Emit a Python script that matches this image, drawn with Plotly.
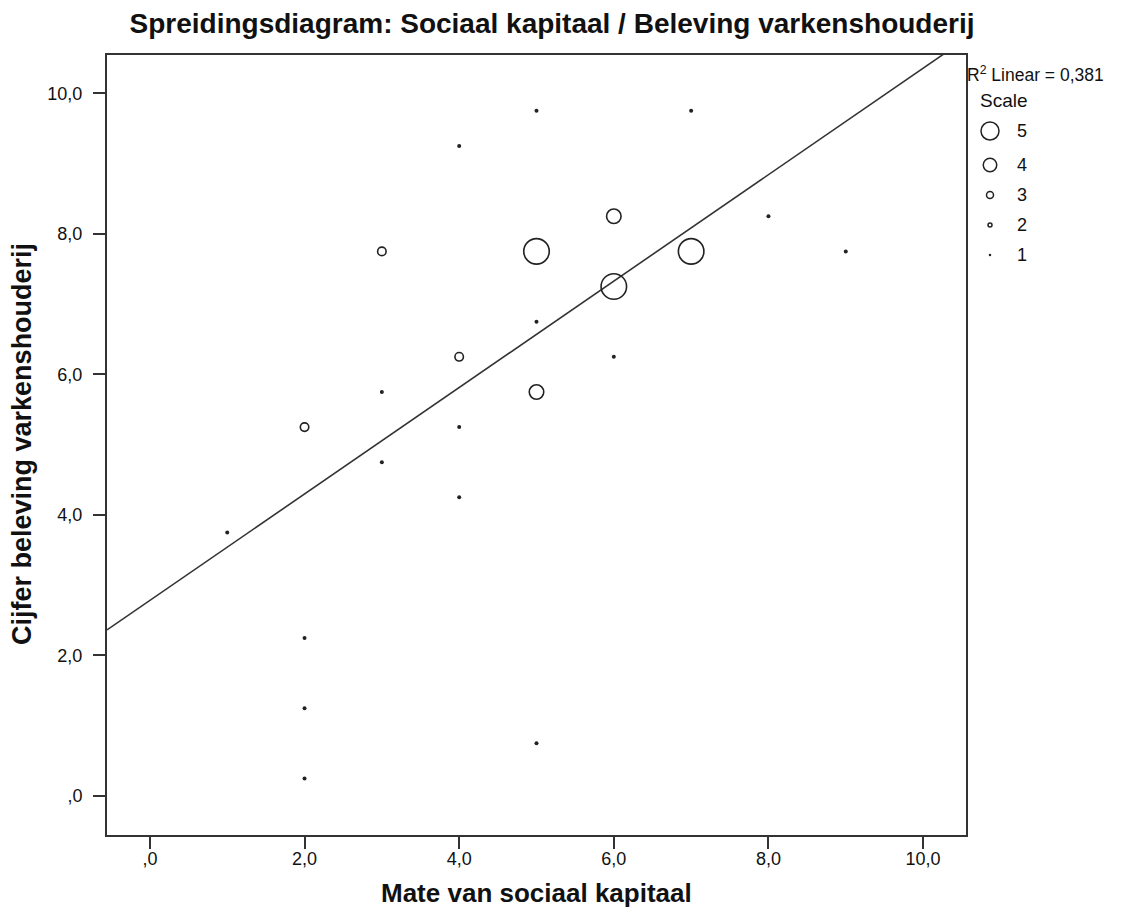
import numpy as np
import plotly.graph_objects as go

# ---- data ----
soc_kapitaal = [4, 5, 7, 8, 9, 5, 6, 3, 4, 3, 4, 1, 2, 2, 2, 5,
                3, 4, 2,
                6, 5,
                5, 7, 6]
beleving = [9.25, 9.75, 9.75, 8.25, 7.75, 6.75, 6.25, 5.75, 5.25, 4.75, 4.25, 3.75, 2.25, 1.25, 0.25, 0.75,
            7.75, 6.25, 5.25,
            8.25, 5.75,
            7.75, 7.75, 7.25]
aantal = [1, 1, 1, 1, 1, 1, 1, 1, 1, 1, 1, 1, 1, 1, 1, 1,
          2, 2, 2,
          3, 3,
          4, 4, 4]
x_ticks = [0, 2, 4, 6, 8, 10]
x_ticktext = [",0", "2,0", "4,0", "6,0", "8,0", "10,0"]
y_ticks = [0, 2, 4, 6, 8, 10]
y_ticktext = [",0", "2,0", "4,0", "6,0", "8,0", "10,0"]
legend_values = [5, 4, 3, 2, 1]
r2_text = "R<sup>2</sup> Linear = 0,381"

# ---- styling ----
OFF = 8                      # page body margin
W, H = 1126 - OFF, 917 - OFF
ML, MR, MT = 107 - OFF, 0, 55 - OFF
plot_bottom = 835 - OFF
MB = H - plot_bottom
plot_right = 966 - OFF
PW, PH = W - ML - MR, plot_bottom - MT
XR = [-0.555, 10.555]
YR = [-0.555, 10.545]
FONT = "Liberation Sans, Arial, sans-serif"
INK = "#222222"
size_plot = {1: 4, 2: 8.5, 3: 14.5, 4: 25.5}
size_leg = {5: 18, 4: 13.5, 3: 7, 2: 4, 1: 2.5}

fig = go.Figure()

# regression line (weighted least squares, frequency weights)
x = np.array(soc_kapitaal, float)
y = np.array(beleving, float)
w = np.array(aantal, float)
slope, intercept = np.polyfit(x, y, 1, w=np.sqrt(w))
lx = np.array([XR[0], XR[1]])
fig.add_trace(go.Scatter(x=lx, y=intercept + slope * lx, mode="lines",
                         line=dict(color="#333333", width=1.6),
                         hoverinfo="skip", showlegend=False))

# points
for c in sorted(set(aantal)):
    xs = [a for a, n in zip(soc_kapitaal, aantal) if n == c]
    ys = [b for b, n in zip(beleving, aantal) if n == c]
    if c == 1:
        marker = dict(symbol="circle", size=size_plot[c], color=INK, line=dict(width=0))
    else:
        marker = dict(symbol="circle-open", size=size_plot[c], color=INK, line=dict(width=1.6, color=INK))
    fig.add_trace(go.Scatter(x=xs, y=ys, mode="markers", marker=marker, showlegend=False))

# legend symbols (drawn on a pixel-like helper axis in the right margin)
leg_y = [131 - OFF, 165 - OFF, 195 - OFF, 225 - OFF, 255 - OFF]
leg_x = 990 - OFF
for v, yy in zip(legend_values, leg_y):
    if v == 1:
        marker = dict(symbol="circle", size=size_leg[v], color=INK)
    else:
        marker = dict(symbol="circle-open", size=size_leg[v], color=INK, line=dict(width=1.5, color=INK))
    fig.add_trace(go.Scatter(x=[leg_x], y=[yy], xaxis="x2", yaxis="y2", mode="markers",
                             marker=marker, showlegend=False, hoverinfo="skip"))
    fig.add_annotation(x=1015 - OFF, y=yy, xref="x2", yref="y2", text=str(v), showarrow=False,
                       xanchor="left", yanchor="middle", font=dict(family=FONT, size=18, color="#111"))

fig.add_annotation(x=(978 - OFF - ML) / PW, y=100 - OFF, xref="paper", yref="y2", text="Scale",
                   showarrow=False, xanchor="left", yanchor="middle",
                   font=dict(family=FONT, size=19, color="#111"))
fig.add_annotation(x=(965 - OFF - ML) / PW, y=74 - OFF, xref="paper", yref="y2", text=r2_text,
                   showarrow=False, xanchor="left", yanchor="middle",
                   font=dict(family=FONT, size=17.5, color="#111"))

dom_r = (plot_right - ML) / PW
axis_common = dict(showgrid=False, zeroline=False, showline=True, mirror=True,
                   linecolor="#333333", linewidth=2, ticks="outside", ticklen=12,
                   tickwidth=1.6, tickcolor="#333333",
                   tickfont=dict(family=FONT, size=18, color="#111"))
fig.update_layout(
    width=W, height=H,
    margin=dict(l=ML, r=MR, t=MT, b=MB),
    paper_bgcolor="white", plot_bgcolor="white",
    xaxis=dict(domain=[0, dom_r], range=XR, tickvals=x_ticks, ticktext=x_ticktext,
               ticklabelstandoff=-6, **axis_common),
    yaxis=dict(range=YR, tickvals=y_ticks, ticktext=y_ticktext, ticklabelstandoff=7, **axis_common),
    xaxis2=dict(domain=[dom_r, 1], range=[plot_right, W], visible=False, anchor="y2", fixedrange=True),
    yaxis2=dict(domain=[0, 1], range=[plot_bottom, MT], visible=False, anchor="x2", fixedrange=True),
    title=dict(text="<b>Spreidingsdiagram: Sociaal kapitaal / Beleving varkenshouderij</b>",
               xref="container", x=(552 - OFF) / W, xanchor="center",
               yref="container", y=1 - (23 - OFF) / H, yanchor="middle",
               font=dict(family=FONT, size=28, color="#111")),
    showlegend=False,
)
fig.add_annotation(text="<b>Mate van sociaal kapitaal</b>", xref="paper", yref="paper",
                   x=0.5 * dom_r, y=(plot_bottom - (893 - OFF)) / PH, showarrow=False,
                   xanchor="center", yanchor="middle", font=dict(family=FONT, size=26, color="#111"))
fig.add_annotation(text="<b>Cijfer beleving varkenshouderij</b>", xref="paper", yref="paper",
                   x=((22 - OFF) - ML) / PW, y=(plot_bottom - (444 - OFF)) / PH, textangle=-90,
                   showarrow=False, xanchor="center", yanchor="middle",
                   font=dict(family=FONT, size=27, color="#111"))

fig.write_html("out.html")
